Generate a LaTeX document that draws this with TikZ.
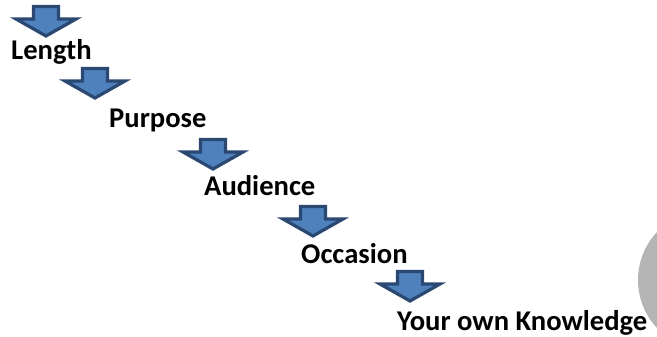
\documentclass[tikz,border=0pt]{standalone}
\usepackage{fontspec}
\setmainfont{Carlito}
\definecolor{arrowfill}{HTML}{4F81BD}
\definecolor{arrowline}{HTML}{2A4872}
\definecolor{shapegray}{HTML}{B4B4B4}
\tikzset{
  arrowstyle/.style={fill=arrowfill, draw=arrowline, line width=3.2pt, line join=miter},
  label/.style={anchor=base west, inner sep=0pt, font=\fontsize{28.6}{34}\selectfont\bfseries, text=black},
  downarrow/.pic={\path[arrowstyle] (-12.5,1.5) -- (12.5,1.5) -- (12.5,14) -- (30,14) -- (0,31) -- (-30,14) -- (-12.5,14) -- cycle;}
}
\begin{document}
\begin{tikzpicture}[x=1pt,y=-1pt]
\useasboundingbox (0,0) rectangle (657,337);
\clip (0,0) rectangle (657,337);
\fill[shapegray] (708,280) circle[radius=70];
\pic (a1) at (46,5) {downarrow};
\node[label] (t1) at (11,60) {Length};
\pic (a2) at (95,67) {downarrow};
\node[label] (t2) at (109,128) {Purpose};
\pic (a3) at (213,138) {downarrow};
\node[label] (t3) at (204,195) {Audience};
\pic (a4) at (313,205) {downarrow};
\node[label] (t4) at (301,263) {Occasion};
\pic (a5) at (410,270) {downarrow};
\node[label] (t5) at (397,330) {Your own Knowledge};
\end{tikzpicture}
\end{document}
